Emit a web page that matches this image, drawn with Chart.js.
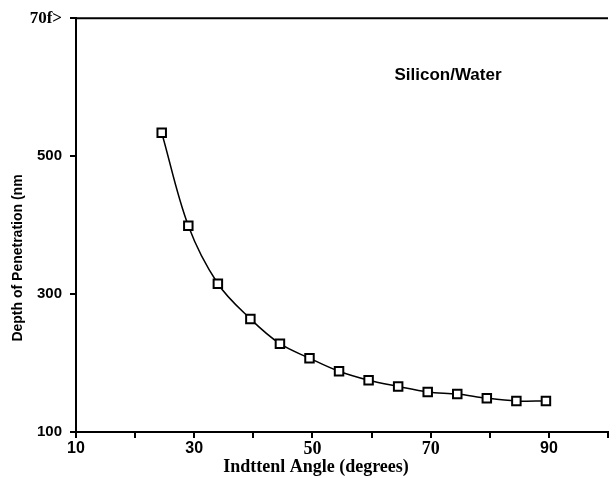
<!DOCTYPE html>
<html>
<head>
<meta charset="utf-8">
<script src="https://cdn.jsdelivr.net/npm/chart.js@4"></script>
<style>
  html, body { margin: 0; padding: 0; background: #fff; }
  #wrap { width: 616px; height: 478px; }
</style>
</head>
<body>
<div id="wrap"><canvas id="chart" width="616" height="478"></canvas></div>
<script>
// incident angle (degrees) and depth of penetration (nm)
const angles = [24.5, 29, 34, 39.5, 44.5, 49.5, 54.5, 59.5, 64.5, 69.5, 74.5, 79.5, 84.5, 89.5];
const depths = [534, 399, 315, 264, 228, 207, 188, 175, 166, 158, 155, 149, 145, 145];
const xLabels = [10, 30, 50, 70, 90];
const yLabels = { 100: "100", 300: "300", 500: "500", 700: "70f>" };

const sans = "'Liberation Sans', Arial, sans-serif";
const serif = "'Liberation Serif', 'Times New Roman', serif";

/* Texts and frame top */
const extras = {
  id: "extras",
  afterDraw(c) {
    const ctx = c.ctx, a = c.chartArea;
    ctx.save();
    ctx.strokeStyle = "#000";
    ctx.lineWidth = 2;
    ctx.beginPath();
    ctx.moveTo(a.left, a.top);
    ctx.lineTo(a.right, a.top);
    ctx.stroke();

    ctx.fillStyle = "#000";
    ctx.textAlign = "center";
    ctx.textBaseline = "middle";
    ctx.font = "bold 17px " + sans;
    ctx.fillText("Silicon/Water", 448, 75);

    ctx.font = "bold 18px " + serif;
    ctx.fillText("Indttenl Angle (degrees)", 316, 467);

    ctx.translate(18, 258);
    ctx.rotate(-Math.PI / 2);
    ctx.font = "bold 14px " + sans;
    ctx.fillText("Depth of Penetration (nm", 0, 0);
    ctx.restore();
  }
};

const chart = new Chart(document.getElementById("chart"), {
  type: "line",
  data: {
    datasets: [{
      data: angles.map((a, i) => ({ x: a, y: depths[i] })),
      borderColor: "#000",
      borderWidth: 1.5,
      tension: 0.35,
      pointStyle: "rect",
      pointRadius: 6,
      pointBorderWidth: 2,
      pointBorderColor: "#000",
      pointBackgroundColor: "#fff"
    }]
  },
  options: {
    responsive: false,
    animation: false,
    layout: { padding: { top: 16, right: 0, left: 0, bottom: 0 } },
    plugins: {
      legend: { display: false },
      tooltip: { enabled: false }
    },
    scales: {
      x: {
        type: "linear",
        min: 10,
        max: 100,
        afterFit: s => { s.height = 46; },
        border: { color: "#000", width: 2 },
        grid: { drawOnChartArea: false, color: "#000", lineWidth: 2, tickLength: 6 },
        ticks: {
          stepSize: 10,
          padding: 1,
          maxRotation: 0,
          autoSkip: false,
          color: "#000",
          font: ctx => {
            const s = ctx.tick && (ctx.tick.value === 50 || ctx.tick.value === 70);
            return { family: s ? serif : sans, size: s ? 18 : 16, weight: "bold" };
          },
          callback: v => xLabels.includes(v) ? String(v) : ""
        }
      },
      y: {
        min: 100,
        max: 700,
        afterFit: s => { s.width = 76; },
        border: { color: "#000", width: 2 },
        grid: { drawOnChartArea: false, color: "#000", lineWidth: 2, tickLength: 6 },
        ticks: {
          stepSize: 200,
          padding: 8,
          color: "#000",
          font: ctx => ({
            family: (ctx.tick && ctx.tick.value === 700) ? serif : sans,
            size: (ctx.tick && ctx.tick.value === 700) ? 17 : 15,
            weight: "bold"
          }),
          callback: v => yLabels[v] || ""
        }
      }
    }
  },
  plugins: [extras]
});
</script>
</body>
</html>
